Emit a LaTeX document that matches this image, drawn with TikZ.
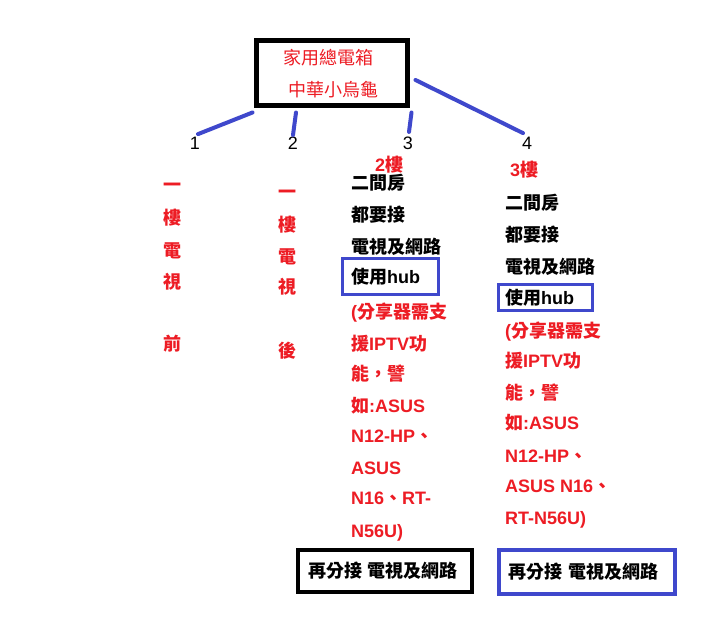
\documentclass[tikz,border=0pt]{standalone}
\usepackage{fontspec}
\setmainfont{Liberation Sans}
\newfontfamily\cjkf{Noto Sans CJK TC}
\newcommand\zh[1]{{\cjkf #1}}
\usetikzlibrary{calc}
\definecolor{pred}{RGB}{237,28,36}
\definecolor{pindigo}{RGB}{63,72,204}
\tikzset{
  txt/.style={inner sep=0pt, anchor=base west, font=\bfseries\fontsize{18}{20}\selectfont},
  redt/.style={txt, text=pred},
  blkt/.style={txt, text=black},
  vchar/.style={inner sep=0pt, anchor=base, text=pred, font=\cjkf\bfseries\fontsize{18}{20}\selectfont},
  num/.style={inner sep=0pt, anchor=center, font=\fontsize{18}{20}\selectfont},
  conn/.style={draw=pindigo, line width=4pt, line cap=round},
  boxtxt/.style={inner ysep=0pt, align=left, font=\bfseries\fontsize{18}{20}\selectfont},
}
\begin{document}
\begin{tikzpicture}[x=1pt,y=-1pt]
\useasboundingbox[fill=white] (0,0) rectangle (720,620);
% main box
\node[draw=black, line width=5pt, minimum width=151pt, minimum height=65pt, inner sep=0pt] (box) at (332,73) {};
\node[inner sep=0pt, text=pred, font=\cjkf\fontsize{18}{20}\selectfont] (t1) at (328,58) {家用總電箱};
\node[inner sep=0pt, text=pred, font=\cjkf\fontsize{18}{20}\selectfont] (t2) at (333,90) {中華小烏龜};
% numbers
\node[num] (n1) at (195,143) {1};
\node[num] (n2) at (293,143) {2};
\node[num] (n3) at (408,143) {3};
\node[num] (n4) at (527,143) {4};
% connectors
\draw[conn] ($(box.south west)+(-1.5,4.5)$) -- ($(n1.north)+(3,-2.5)$);
\draw[conn] ($(box.south)+(-36,4.5)$) -- ($(n2.north)+(0,-1.5)$);
\draw[conn] ($(box.south east)+(1.5,4.5)$) -- ($(n3.north)+(1,-4.5)$);
\draw[conn] ($(box.east)+(5.5,7)$) -- ($(n4.north)+(-4,-3.5)$);
% column 1
\node[vchar] (a1) at (172,192) {一};
\node[vchar] (a2) at (172,225) {樓};
\node[vchar] (a3) at (172,258) {電};
\node[vchar] (a4) at (172,289) {視};
\node[vchar] (a5) at (172,350) {前};
% column 2
\node[vchar] (b1) at (287,199) {一};
\node[vchar] (b2) at (287,232) {樓};
\node[vchar] (b3) at (287,264) {電};
\node[vchar] (b4) at (287,294) {視};
\node[vchar] (b5) at (287,357) {後};
% column 3
\node[redt] (c0) at (375,172) {2\zh{樓}};
\node[blkt] (c1) at (351,190) {\zh{二間房}};
\node[blkt] (c2) at (351,222) {\zh{都要接}};
\node[blkt] (c3) at (351,254) {\zh{電視及網路}};
\node[boxtxt, draw=pindigo, line width=3pt, minimum width=96pt, minimum height=36pt, inner xsep=9pt, text width=78pt] (c4) at (390,277) {\zh{使用}hub};
\node[redt] (c5) at (351,319) {(\zh{分享器需支}};
\node[redt] (c6) at (351,350) {\zh{援}IPTV\zh{功}};
\node[redt] (c7) at (351,380) {\zh{能，譬}};
\node[redt] (c8) at (351,412) {\zh{如}:ASUS};
\node[redt] (c9) at (351,442) {N12-HP\zh{、}};
\node[redt] (c10) at (351,474) {ASUS};
\node[redt] (c11) at (351,504) {N16\zh{、}RT-};
\node[redt] (c12) at (351,537) {N56U)};
\node[boxtxt, draw=black, line width=4.5pt, minimum width=174pt, minimum height=42pt, inner xsep=10pt, text width=154pt] (c13) at (385,571) {\zh{再分接 電視及網路}};
% column 4
\node[redt] (d0) at (510,177) {3\zh{樓}};
\node[blkt] (d1) at (505,210) {\zh{二間房}};
\node[blkt] (d2) at (505,242) {\zh{都要接}};
\node[blkt] (d3) at (505,274) {\zh{電視及網路}};
\node[boxtxt, draw=pindigo, line width=3pt, minimum width=94pt, minimum height=25pt, inner xsep=7pt, text width=80pt] (d4) at (545,297.5) {\zh{使用}hub};
\node[redt] (d5) at (505,337) {(\zh{分享器需支}};
\node[redt] (d6) at (505,367) {\zh{援}IPTV\zh{功}};
\node[redt] (d7) at (505,399) {\zh{能，譬}};
\node[redt] (d8) at (505,429) {\zh{如}:ASUS};
\node[redt] (d9) at (505,462) {N12-HP\zh{、}};
\node[redt] (d10) at (505,492) {ASUS N16\zh{、}};
\node[redt] (d11) at (505,524) {RT-N56U)};
\node[boxtxt, draw=pindigo, line width=4pt, minimum width=176pt, minimum height=44pt, inner xsep=9pt, text width=158pt] (d12) at (587,572) {\zh{再分接 電視及網路}};
\end{tikzpicture}
\end{document}
